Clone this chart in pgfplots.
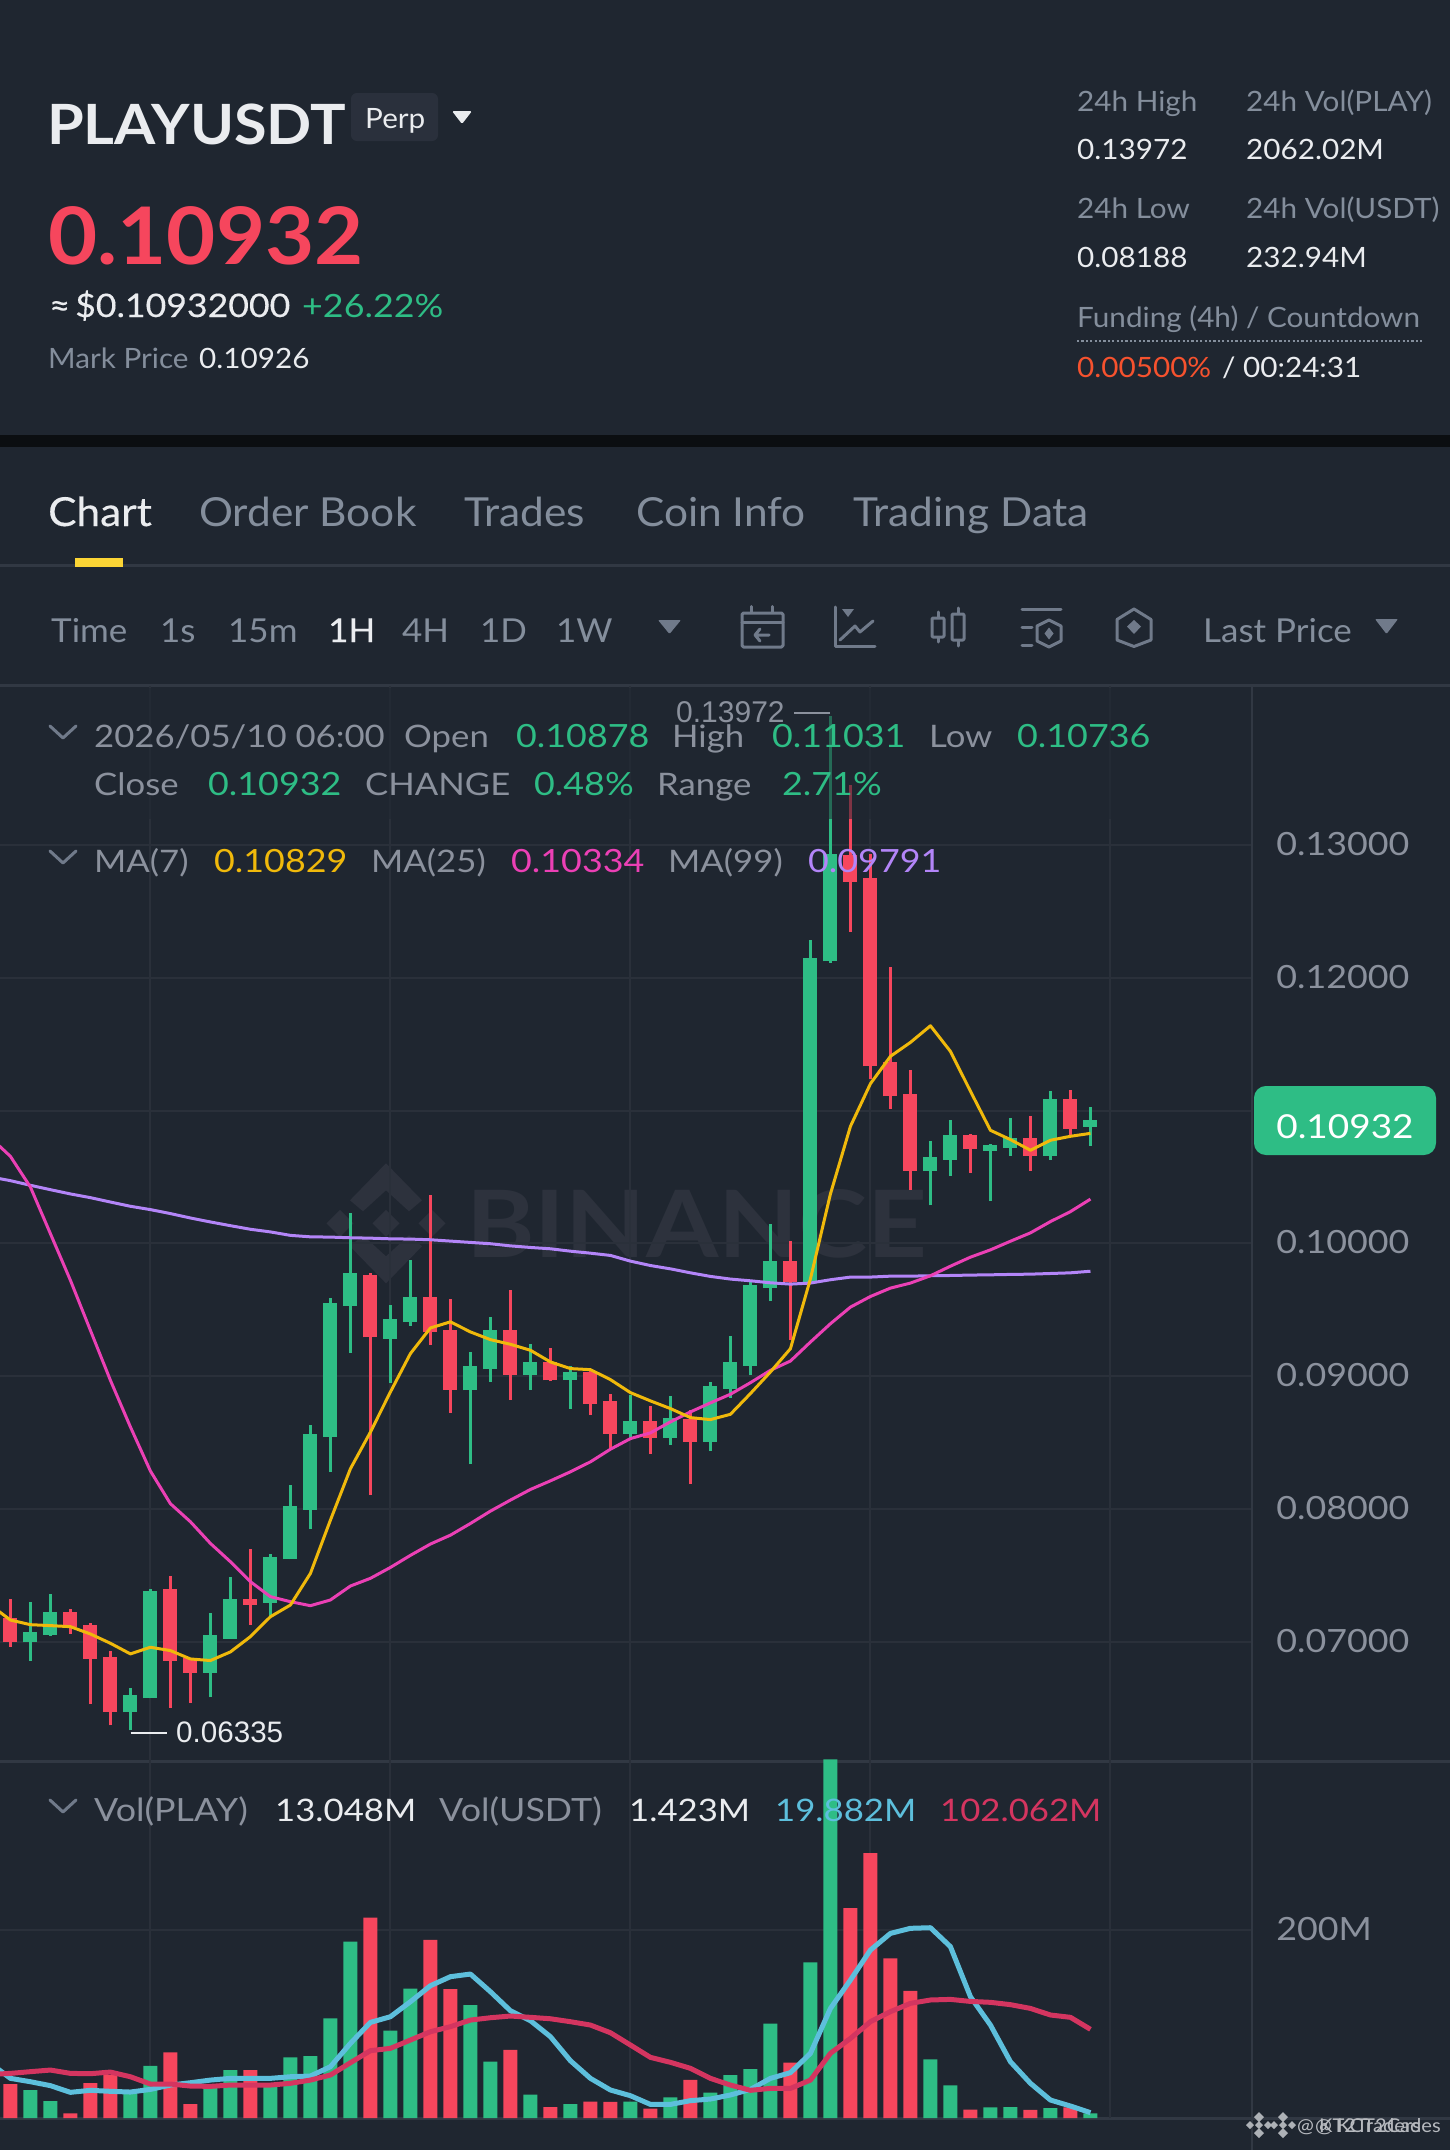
\documentclass[border=0pt]{standalone}
\usepackage{pgfplots}
\usepackage{pgfplotstable}
\usepackage{fontspec}
\pgfplotsset{compat=1.18}
\setmainfont[FakeStretch=1.12]{Lato}
\newfontfamily\cv{Liberation Sans}
\newfontfamily\wf[FakeStretch=1.06]{Lato}
\newfontfamily\hb[FakeStretch=1.07]{Lato}
\newfontfamily\mf[FakeStretch=1.06,FakeBold=.3]{Lato}
\newfontfamily\mdg[FakeStretch=1.1,FakeBold=.3]{Lato}
\definecolor{bg}{HTML}{1F2630}
\definecolor{band}{HTML}{0B0E11}
\definecolor{rule}{HTML}{313843}
\definecolor{gridc}{HTML}{2A303A}
\definecolor{grn}{HTML}{2EBD85}
\definecolor{red1}{HTML}{F6465D}
\definecolor{wht}{HTML}{EAECEF}
\definecolor{gry}{HTML}{848E9C}
\definecolor{gry2}{HTML}{8B919D}
\definecolor{icon}{HTML}{707A8A}
\definecolor{ma7}{HTML}{F0B90B}
\definecolor{ma25}{HTML}{EB40B5}
\definecolor{ma99}{HTML}{B385F8}
\definecolor{vma5}{HTML}{5DBFDC}
\definecolor{vma10}{HTML}{D43560}
\definecolor{wm}{HTML}{2D323D}
\definecolor{fund}{HTML}{F6522E}
\definecolor{yel}{HTML}{FCD535}
\definecolor{badge}{HTML}{2A303C}
\pgfplotstableread{
n o h l c v
1 .06997 .07303 .06860 .07073 42.2
2 .07053 .07358 .07045 .07226 31.3
6 .06469 .06652 .06335 .06602 38.9
7 .06576 .07398 .06576 .07386 65.9
10 .06769 .07216 .06582 .07050 45.5
11 .07023 .07486 .07023 .07323 61.9
13 .07296 .07659 .07190 .07642 48.8
14 .07621 .08180 .07621 .08022 74.4
15 .07997 .08636 .07847 .08563 75.7
16 .08543 .09593 .08279 .09555 112.9
17 .09528 .10226 .09176 .09774 188.5
19 .09284 .09535 .08950 .09430 100.7
20 .09407 .09874 .09382 .09595 142.2
23 .08894 .09183 .08339 .09075 126.0
24 .09053 .09445 .08960 .09352 70.1
26 .09010 .09244 .08900 .09106 37.6
28 .08972 .09078 .08756 .09035 28.4
31 .08564 .08862 .08539 .08667 30.7
33 .08534 .08855 .08484 .08689 35.0
35 .08509 .08957 .08436 .08930 39.6
36 .08905 .09306 .08837 .09105 57.0
37 .09078 .09709 .09008 .09689 62.9
38 .09664 .10143 .09566 .09865 107.6
40 .09707 .12286 .09700 .12148 168.1
41 .12123 .13972 .12115 .12930 368.4
46 .10544 .10775 .10286 .10652 72.4
47 .10629 .10933 .10507 .10815 46.8
49 .10700 .10752 .10318 .10742 25.1
50 .10720 .10948 .10657 .10792 25.4
52 .10659 .11151 .10632 .11085 24.4
54 .10878 .11031 .10736 .10932 19.2
}\upT
\pgfplotstableread{
n o h l c v
0 .07178 .07321 .06965 .06997 48.1
3 .07226 .07248 .07060 .07115 19.2
4 .07128 .07140 .06531 .06870 49.1
5 .06890 .06930 .06371 .06471 57.0
8 .07398 .07496 .06506 .06860 79.4
9 .06877 .06880 .06544 .06769 28.4
12 .07321 .07697 .07130 .07278 61.9
18 .09766 .09780 .08106 .09294 212.2
21 .09595 .10364 .09234 .09334 190.2
22 .09352 .09585 .08726 .08897 141.8
25 .09352 .09648 .08822 .09010 81.7
27 .09108 .09211 .08962 .08970 25.4
29 .09033 .09058 .08707 .08790 30.7
30 .08812 .08865 .08461 .08569 30.4
32 .08667 .08774 .08414 .08534 23.8
34 .08682 .08749 .08188 .08509 52.1
39 .09865 .10022 .09271 .09707 69.2
42 .12925 .13449 .12348 .12724 221.7
43 .12749 .12932 .11241 .11334 276.0
44 .11364 .12085 .11013 .11108 172.1
45 .11128 .11303 .10404 .10549 139.9
48 .10815 .10827 .10532 .10715 22.8
51 .10792 .10958 .10549 .10657 22.5
53 .11088 .11158 .10812 .10865 25.1
}\downT
\pgfplotstableread{
n ma7 ma25 ma99 vma5 vma10
-1 .07278 .10797 .10501 68.5 57.6
0 .07165 .10656 .10473 53.7 58.6
1 .07130 .10425 .10438 50.4 60.3
2 .07123 .10074 .10405 46.5 61.9
3 .07115 .09723 .10373 39.9 58.6
4 .07060 .09346 .10345 41.9 58.3
5 .06990 .08970 .10312 40.9 59.9
6 .06910 .08619 .10280 40.2 55.3
7 .06960 .08287 .10255 42.8 48.1
8 .06935 .08041 .10225 47.1 48.1
9 .06872 .07905 .10192 49.4 46.1
10 .06860 .07742 .10162 52.0 45.8
11 .06925 .07604 .10134 53.7 47.1
12 .07040 .07454 .10107 53.7 47.1
13 .07190 .07341 .10087 53.7 47.1
14 .07278 .07303 .10061 55.3 48.8
15 .07516 .07273 .10050 56.0 52.0
16 .07917 .07316 .10048 65.2 57.0
17 .08304 .07421 .10043 88.2 69.1
18 .08580 .07479 .10040 108.9 81.0
19 .08882 .07561 .10035 114.5 83.3
20 .09171 .07652 .10033 129.3 91.5
21 .09364 .07737 .10028 145.1 99.7
22 .09410 .07804 .10018 154.0 104.7
23 .09334 .07892 .10008 156.6 111.2
24 .09276 .07985 .09998 139.2 113.5
25 .09241 .08068 .09982 120.4 115.2
26 .09196 .08148 .09970 110.6 113.9
27 .09108 .08213 .09960 94.8 112.5
28 .09058 .08281 .09942 71.1 109.6
29 .09050 .08356 .09927 53.7 106.3
30 .08975 .08451 .09910 42.2 98.7
31 .08877 .08531 .09867 36.6 86.6
32 .08815 .08574 .09834 28.0 74.4
33 .08757 .08657 .09809 28.0 69.5
34 .08689 .08732 .09779 31.7 63.6
35 .08674 .08800 .09752 33.3 53.7
36 .08714 .08865 .09732 37.3 47.1
37 .08870 .08952 .09719 42.8 41.9
38 .09033 .09045 .09704 53.7 43.8
39 .09208 .09115 .09694 59.3 43.8
40 .09734 .09258 .09702 78.4 52.0
41 .10373 .09396 .09727 122.7 78.4
42 .10882 .09521 .09747 150.7 93.1
43 .11203 .09601 .09747 180.3 109.6
44 .11409 .09664 .09754 196.7 119.5
45 .11514 .09702 .09754 201.7 127.7
46 .11639 .09757 .09757 202.3 131.0
47 .11446 .09829 .09759 183.6 131.6
48 .11146 .09897 .09762 134.2 129.6
49 .10852 .09952 .09764 106.3 128.7
50 .10782 .10017 .09767 70.1 126.4
51 .10702 .10080 .09769 48.8 122.7
52 .10777 .10165 .09774 32.3 116.2
53 .10807 .10240 .09779 26.4 113.9
54 .10829 .10334 .09791 19.882 102.062
}\maT
\newcommand{\T}[5]{\node[anchor=base west,inner sep=0pt,text=#3,font=\fontsize{#4bp}{#4bp}\selectfont] at (#1,#2) {#5};}
\pgfplotsset{
  chart/.style={scale only axis, width=1251bp, xmin=-0.52, xmax=62.03,
    axis line style={draw=none}, major tick length=0pt, xtick={7,19,31,43,55},
    xticklabel=\empty, xmajorgrids, ymajorgrids,
    grid style={color=gridc,line width=2bp},
    yticklabel pos=right,
    yticklabel style={anchor=west,inner sep=0pt,xshift=25bp,yshift=1bp,text=gry2,font=\fontsize{32bp}{32bp}\selectfont},
    enlargelimits=false},
  wick/.style={draw=none,no marks,forget plot,error bars/.cd,y dir=plus,y explicit,error mark=none,
    error bar style={line width=2.6bp,draw=#1,solid}},
  body/.style={draw=none,no marks,forget plot,error bars/.cd,y dir=plus,y explicit,error mark=none,
    error bar style={line width=14bp,draw=#1,solid}},
  mal/.style={color=#1,line width=3bp,no marks,sharp plot,line join=round,forget plot},
  vml/.style={color=#1,line width=5bp,no marks,sharp plot,line join=round,forget plot},
  vbar/.style={ybar,bar width=14bp,bar shift=0pt,fill=#1,draw=none,forget plot}
}
\begin{document}
\begin{tikzpicture}
\useasboundingbox (0,0) rectangle (1450bp,-2150bp);
\fill[bg] (0,0) rectangle (1450bp,-2150bp);
\begin{scope}[x=1bp,y=-1bp]
% band and panel rules
\fill[band] (0,435) rectangle (1450,447);
\fill[rule] (0,563.5) rectangle (1450,566.5);
\fill[yel] (75,558) rectangle (123,567);
\fill[rule] (0,684) rectangle (1450,687);
\fill[rule] (0,1760) rectangle (1450,1763);
\fill[rule] (0,2117) rectangle (1450,2119.5);
\fill[rule] (1250.5,686) rectangle (1252.5,2150);
% watermark
\begin{scope}[shift={(386,1223.3)},wm]
\fill (0,60)--(-36,23)--(-23,12)--(0,33)--(23,12)--(36,23)--cycle;
\fill (0,-60)--(-36,-23)--(-23,-12)--(0,-33)--(23,-12)--(36,-23)--cycle;
\fill (0,-13.5)--(13.5,0)--(0,13.5)--(-13.5,0)--cycle;
\fill (-46,-13.5)--(-32.5,0)--(-46,13.5)--(-59.5,0)--cycle;
\fill (46,-13.5)--(59.5,0)--(46,13.5)--(32.5,0)--cycle;
\end{scope}
\node[anchor=base west,inner sep=0pt,text=wm,font=\fontsize{93bp}{93bp}\selectfont\bfseries] at (466,1257) {BINANCE};
\end{scope}
% price panel
\begin{axis}[chart, at={(0bp,-1762bp)}, anchor=south west, height=1076bp,
  ymin=.06096, ymax=.14197, ytick={.07,.08,.09,.10,.12,.13},
  extra y ticks={.11}, extra y tick labels={}, extra y tick style={grid=major},
  yticklabel style={/pgf/number format/.cd,fixed,fixed zerofill,precision=5,assume math mode=true}]
\addplot[wick=grn] table[x=n,y=l,y error expr=\thisrow{h}-\thisrow{l}] {\upT};
\addplot[wick=red1] table[x=n,y=l,y error expr=\thisrow{h}-\thisrow{l}] {\downT};
\addplot[body=grn] table[x=n,y=o,y error expr=\thisrow{c}-\thisrow{o}] {\upT};
\addplot[body=red1] table[x=n,y=c,y error expr=\thisrow{o}-\thisrow{c}] {\downT};
\addplot[mal=ma99] table[x=n,y=ma99] {\maT};
\addplot[mal=ma25] table[x=n,y=ma25] {\maT};
\addplot[mal=ma7] table[x=n,y=ma7] {\maT};
\end{axis}
% volume panel
\begin{axis}[chart, at={(0bp,-2118bp)}, anchor=south west, height=360bp,
  ymin=14.57, ymax=369.7, ytick={200}, yticklabels={200M}]
\addplot[vbar=grn] table[x=n,y=v] {\upT};
\addplot[vbar=red1] table[x=n,y=v] {\downT};
\addplot[vml=vma5] table[x=n,y=vma5] {\maT};
\addplot[vml=vma10] table[x=n,y=vma10] {\maT};
\end{axis}
\begin{scope}[x=1bp,y=-1bp]
% dim band under the legend
\fill[bg,opacity=.55] (0,688) rectangle (1250,819);
% price labels on the chart
\node[anchor=base west,inner sep=0pt,text=gry2,font=\cv\fontsize{30bp}{30bp}\selectfont] at (676,722) {0.13972};
\draw[color=gry2,line width=2.6bp] (794,713)--(830,713);
\draw[color=wht,line width=2.6bp] (130.5,1733)--(166.5,1733);
\node[anchor=base west,inner sep=0pt,text=wht,font=\cv\fontsize{29.6bp}{30bp}\selectfont] at (176,1742) {0.06335};
% price tag
\fill[grn,rounded corners=12] (1254,1086) rectangle (1436,1155);
\node[anchor=center,inner sep=0pt,text=white,font=\fontsize{33bp}{33bp}\selectfont] at (1345,1127) {0.10932};
% header left
\T{47}{144}{wht}{55.5}{\hb\bfseries PLAYUSDT}
\fill[badge,rounded corners=6] (351,93) rectangle (438,141);
\T{365}{128}{wht}{28}{\wf Perp}
\fill[wht,rounded corners=1.5] (452,111)--(472,111)--(462,124)--cycle;
\T{48}{264}{red1}{79.3}{\hb\bfseries 0.10932}
\T{49}{317}{wht}{33}{\mdg ≈}
\T{75}{317}{wht}{32.4}{\mdg \$0.10932000}
\T{302}{317}{grn}{32}{+26.22\%}
\T{48}{368}{gry}{28}{\wf Mark Price}
\T{199}{368}{wht}{28}{\wf 0.10926}
% header right
\T{1077}{111}{gry}{28}{\wf 24h High}
\T{1246}{111}{gry}{28}{\wf 24h Vol(PLAY)}
\T{1077}{159}{wht}{28}{\wf 0.13972}
\T{1246}{159}{wht}{28}{\wf 2062.02M}
\T{1077}{218}{gry}{28}{\wf 24h Low}
\T{1246}{218}{gry}{28}{\wf 24h Vol(USDT)}
\T{1077}{267}{wht}{28}{\wf 0.08188}
\T{1246}{267}{wht}{28}{\wf 232.94M}
\T{1077}{327}{gry}{28}{\wf Funding (4h) / Countdown}
\draw[color=gry,line width=2.2bp,dash pattern=on 2.2bp off 2.2bp] (1077,341)--(1422,341);
\T{1077}{377}{fund}{28}{\wf 0.00500\%}
\T{1222}{377}{wht}{28}{\wf /}
\T{1243}{377}{wht}{28}{\wf 00:24:31}
% tabs
\T{48}{526}{wht}{40}{\mf Chart}
\T{199}{526}{gry}{40}{\wf Order Book}
\T{464}{526}{gry}{40}{\wf Trades}
\T{636}{526}{gry}{40}{\wf Coin Info}
\T{853}{526}{gry}{40}{\wf Trading Data}
% toolbar
\T{51}{642}{gry}{33}{\wf Time}
\T{160}{642}{gry}{33}{\wf 1s}
\T{228}{642}{gry}{33}{\wf 15m}
\T{328}{642}{wht}{33}{\mf 1H}
\T{402}{642}{gry}{33}{\wf 4H}
\T{480}{642}{gry}{33}{\wf 1D}
\T{556}{642}{gry}{33}{\wf 1W}
\fill[icon,rounded corners=1] (658,620)--(681,620)--(669.5,634)--cycle;
\begin{scope}[icon,line width=3bp,line cap=round,line join=round]
% calendar
\draw[rounded corners=1.5] (742,613) rectangle (783,647);
\draw (742,622)--(783,622) (751.5,606.5)--(751.5,612) (772,606.5)--(772,612);
\draw (769,635)--(755,635) (760,629)--(755,635)--(760,641);
% indicator chart
\draw (835,607)--(835,646)--(875,646);
\fill (842,609)--(854,609)--(848,617)--cycle;
\draw (840,640)--(855,626)--(860,632)--(873,621);
% candles
\draw (938,612)--(938,642) (958,608)--(958,646);
\fill[bg,draw=icon,rounded corners=1] (932,618) rectangle (944,637);
\fill[bg,draw=icon,rounded corners=1] (952,614) rectangle (964,640);
% layout
\draw (1022,609)--(1061,609) (1022,627)--(1032,627) (1022,645)--(1032,645);
\draw (1037,626)--(1049,620)--(1061,626)--(1061,641)--(1049,647)--(1037,641)--cycle;
\fill (1049,627.5)--(1053.5,633.5)--(1049,639.5)--(1044.5,633.5)--cycle;
% hexagon
\draw (1134,609)--(1151,619.5)--(1151,640)--(1134,646.5)--(1117,640)--(1117,619.5)--cycle;
\fill (1134,620)--(1141,626.5)--(1134,634)--(1127,626.5)--cycle;
\end{scope}
\T{1203}{642}{gry}{33}{\wf Last Price}
\fill[icon,rounded corners=1] (1375,619)--(1398,619)--(1386.5,634)--cycle;
% legend rows
\draw[color=icon,line width=3bp,line cap=round,line join=round] (50,726)--(63,738)--(76,726);
\T{94}{747}{gry2}{31}{2026/05/10 06:00}
\T{404}{747}{gry2}{31}{Open}
\T{516}{747}{grn}{32}{0.10878}
\T{672}{747}{gry2}{31}{High}
\T{772}{747}{grn}{32}{0.11031}
\T{929}{747}{gry2}{31}{Low}
\T{1017}{747}{grn}{32}{0.10736}
\T{94}{795}{gry2}{31}{Close}
\T{208}{795}{grn}{32}{0.10932}
\T{365}{795}{gry2}{31}{CHANGE}
\T{534}{795}{grn}{32}{0.48\%}
\T{657}{795}{gry2}{31}{Range}
\T{782}{795}{grn}{32}{2.71\%}
\draw[color=icon,line width=3bp,line cap=round,line join=round] (50,851)--(63,863)--(76,851);
\T{94}{872}{gry2}{31}{MA(7)}
\T{214}{872}{ma7}{32}{0.10829}
\T{371}{872}{gry2}{31}{MA(25)}
\T{511}{872}{ma25}{32}{0.10334}
\T{668}{872}{gry2}{31}{MA(99)}
\T{808}{872}{ma99}{32}{0.09791}
% volume legend
\draw[color=icon,line width=3bp,line cap=round,line join=round] (50,1800)--(63,1812)--(76,1800);
\T{94}{1821}{gry2}{32}{Vol(PLAY)}
\T{275}{1821}{wht}{31}{13.048M}
\T{439}{1821}{gry2}{32}{Vol(USDT)}
\T{629}{1821}{wht}{31}{1.423M}
\T{775}{1821}{vma5}{31}{19.882M}
\T{940}{1821}{vma10}{31}{102.062M}
% footer watermark
\begin{scope}[shift={(1259,2125)},color=wht!70!bg]
\fill (0,-13)--(5,-8)--(0,-3)--(-5,-8)--cycle (0,13)--(5,8)--(0,3)--(-5,8)--cycle (0,-4)--(4,0)--(0,4)--(-4,0)--cycle (-9,-4)--(-5,0)--(-9,4)--(-13,0)--cycle (9,-4)--(13,0)--(9,4)--(5,0)--cycle;
\end{scope}
\begin{scope}[shift={(1283,2125)},color=wht!70!bg]
\fill (0,-13)--(5,-8)--(0,-3)--(-5,-8)--cycle (0,13)--(5,8)--(0,3)--(-5,8)--cycle (0,-4)--(4,0)--(0,4)--(-4,0)--cycle (-9,-4)--(-5,0)--(-9,4)--(-13,0)--cycle (9,-4)--(13,0)--(9,4)--(5,0)--cycle;
\end{scope}
\node[anchor=base west,inner sep=0pt,text=wht!75!bg,font=\fontsize{19bp}{19bp}\selectfont\wf] at (1297,2132) {@ KT2Traders};
\node[anchor=base west,inner sep=0pt,text=wht!75!bg,font=\fontsize{19bp}{19bp}\selectfont\wf] at (1315,2132) {@ KCT2Cades};
\end{scope}
\end{tikzpicture}
\end{document}
